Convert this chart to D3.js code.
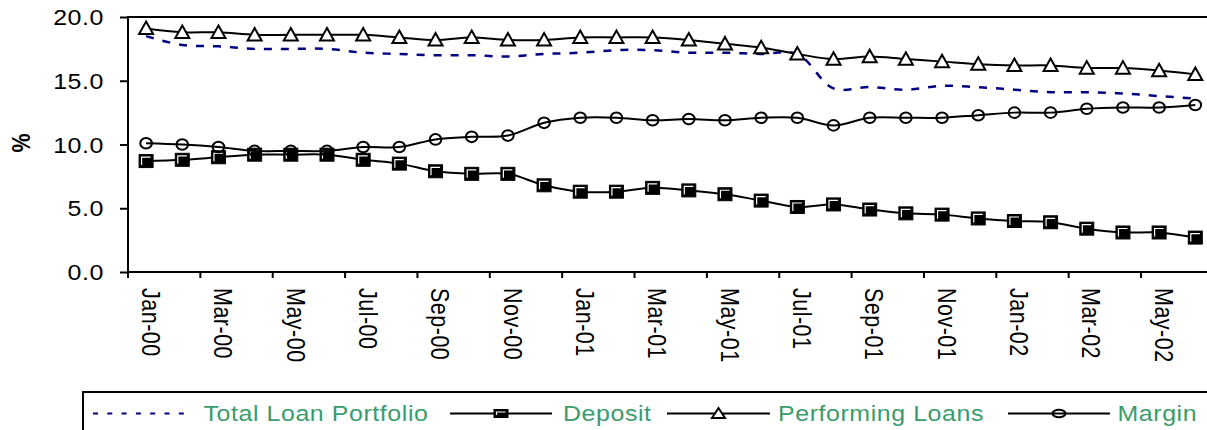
<!DOCTYPE html>
<html>
<head>
<meta charset="utf-8">
<script src="https://cdn.jsdelivr.net/npm/d3@7"></script>
<style>
    body { margin: 0; background: #fff; }
    svg { display: block; }
</style>
</head>
<body>
<div id="chart"></div>
<script>
const months = ['Jan-00', 'Feb-00', 'Mar-00', 'Apr-00', 'May-00', 'Jun-00', 'Jul-00', 'Aug-00', 'Sep-00', 'Oct-00', 'Nov-00', 'Dec-00',
    'Jan-01', 'Feb-01', 'Mar-01', 'Apr-01', 'May-01', 'Jun-01', 'Jul-01', 'Aug-01', 'Sep-01', 'Oct-01', 'Nov-01', 'Dec-01',
    'Jan-02', 'Feb-02', 'Mar-02', 'Apr-02', 'May-02', 'Jun-02'];
const tickLabels = ['Jan-00', 'Mar-00', 'May-00', 'Jul-00', 'Sep-00', 'Nov-00', 'Jan-01', 'Mar-01', 'May-01', 'Jul-01',
    'Sep-01', 'Nov-01', 'Jan-02', 'Mar-02', 'May-02'];
const yTicks = [0, 5, 10, 15, 20];

const totalLoanPortfolio = [18.5, 17.8, 17.7, 17.5, 17.5, 17.5, 17.2, 17.1, 17.0, 17.0, 16.9, 17.1, 17.2, 17.4, 17.4,
    17.2, 17.2, 17.1, 17.1, 14.4, 14.5, 14.3, 14.6, 14.5, 14.3, 14.1, 14.1, 14.0, 13.8, 13.6];
const deposit = [8.7, 8.8, 9.0, 9.2, 9.2, 9.2, 8.8, 8.5, 7.9, 7.7, 7.7, 6.8, 6.3, 6.3, 6.6,
    6.4, 6.1, 5.6, 5.1, 5.3, 4.9, 4.6, 4.5, 4.2, 4.0, 3.9, 3.4, 3.1, 3.1, 2.7];
const performingLoans = [19.1, 18.8, 18.8, 18.6, 18.6, 18.6, 18.6, 18.4, 18.2, 18.4, 18.2, 18.2, 18.4, 18.4, 18.4,
    18.2, 17.9, 17.6, 17.1, 16.7, 16.9, 16.7, 16.5, 16.3, 16.2, 16.2, 16.0, 16.0, 15.8, 15.5];
const margin = [10.1, 10.0, 9.8, 9.5, 9.5, 9.5, 9.8, 9.8, 10.4, 10.6, 10.7, 11.7, 12.1, 12.1, 11.9,
    12.0, 11.9, 12.1, 12.1, 11.5, 12.1, 12.1, 12.1, 12.3, 12.5, 12.5, 12.8, 12.9, 12.9, 13.1];

const series = [
    { name: 'Total Loan Portfolio', values: totalLoanPortfolio, marker: null },
    { name: 'Deposit', values: deposit, marker: 'square' },
    { name: 'Performing Loans', values: performingLoans, marker: 'triangle' },
    { name: 'Margin', values: margin, marker: 'circle' }
];

const width = 1207;
const height = 430;
const plot = { left: 128, top: 17, bottom: 272, step: 36.18 };
const fontFamily = "'Liberation Sans', Arial, sans-serif";
const fontSize = 21.5;
const stretch = 1.16;   // the text in the picture is wider than it is tall
const green = '#3a9c6c';
const navy = '#000080';

const svg = d3.select('#chart')
    .append('svg')
    .attr('width', width)
    .attr('height', height)
    .attr('font-family', fontFamily);

// Scales
const x = d3.scaleBand()
    .domain(months)
    .range([plot.left, plot.left + months.length * plot.step])
    .padding(0);

const y = d3.scaleLinear()
    .domain([0, 20])
    .range([plot.bottom, plot.top]);

const cx = (d, i) => x(months[i]) + x.bandwidth() / 2;

// Plot frame
svg.append('rect')
    .attr('x', plot.left)
    .attr('y', plot.top)
    .attr('width', x.range()[1] - plot.left)
    .attr('height', plot.bottom - plot.top)
    .attr('fill', 'none')
    .attr('stroke', '#000')
    .attr('stroke-width', 2);

// Y axis
const yAxis = svg.append('g')
    .attr('transform', `translate(${plot.left},0)`)
    .call(d3.axisLeft(y).tickValues(yTicks).tickFormat(d3.format('.1f')).tickSize(8));

yAxis.attr('font-family', fontFamily).attr('font-size', fontSize);
yAxis.select('.domain').remove();
yAxis.selectAll('.tick line')
    .attr('stroke', '#000')
    .attr('stroke-width', 2);
yAxis.selectAll('.tick text')
    .attr('x', 0)
    .attr('dy', null)
    .attr('fill', '#000')
    .attr('letter-spacing', 0.5)
    .attr('transform', `translate(-24,7.5) scale(${stretch},1)`);

// Y title
svg.append('text')
    .attr('transform', `translate(29.5,143) scale(${stretch},1) rotate(-90)`)
    .attr('text-anchor', 'middle')
    .attr('font-size', fontSize)
    .attr('font-weight', 'bold')
    .text('%');

// X axis: labels at the month, ticks between months
const xAxis = svg.append('g')
    .attr('transform', `translate(0,${plot.bottom})`)
    .call(d3.axisBottom(x).tickValues(tickLabels).tickSize(0));

xAxis.attr('font-family', fontFamily).attr('font-size', fontSize);
xAxis.select('.domain').remove();
xAxis.selectAll('.tick line')
    .attr('x1', -x.bandwidth() / 2)
    .attr('x2', -x.bandwidth() / 2)
    .attr('y2', 6)
    .attr('stroke', '#000')
    .attr('stroke-width', 2);
xAxis.selectAll('.tick text')
    .attr('y', 0)
    .attr('dy', null)
    .attr('fill', '#000')
    .attr('text-anchor', 'start')
    .attr('letter-spacing', 0.5)
    .attr('transform', `translate(-4.3,16) scale(${stretch},1) rotate(90)`);

// Markers
const drawMarker = (g, type, w, h) => {
    if (type === 'square') {
        g.append('rect')
            .attr('x', -w / 2).attr('y', -h / 2)
            .attr('width', w).attr('height', h)
            .attr('fill', '#000')
            .attr('stroke', '#000')
            .attr('stroke-width', 1);
        g.append('path')
            .attr('d', `M${-w / 2 + 2.5},${h / 2 - 2.5}V${-h / 2 + 2.5}H${w / 2 - 2.5}`)
            .attr('fill', 'none')
            .attr('stroke', '#fff')
            .attr('stroke-width', 1.2);
    }
    else if (type === 'triangle') {
        g.append('path')
            .attr('d', `M0,${-h * 0.55}L${w / 2},${h * 0.45}L${-w / 2},${h * 0.45}Z`)
            .attr('fill', '#fff')
            .attr('stroke', '#000')
            .attr('stroke-width', 2)
            .attr('stroke-linejoin', 'miter');
    }
    else if (type === 'circle') {
        g.append('ellipse')
            .attr('rx', w / 2).attr('ry', h / 2)
            .attr('fill', 'none')
            .attr('stroke', '#000')
            .attr('stroke-width', 2);
    }
};

const plotMarkerSize = {
    square: [14, 13],
    triangle: [14, 12.5],
    circle: [11.6, 10.6]
};

// Lines
const line = d3.line()
    .x(cx)
    .y(d => y(d))
    .curve(d3.curveCatmullRom.alpha(0.5));

series.forEach(s => {
    const g = svg.append('g').attr('class', 'series');

    g.append('path')
        .datum(s.values)
        .attr('d', line)
        .attr('fill', 'none')
        .attr('stroke', s.marker ? '#000' : navy)
        .attr('stroke-width', s.marker ? 2 : 2.5)
        .attr('stroke-dasharray', s.marker ? null : '8,9');

    if (s.marker) {
        g.selectAll('g.marker')
            .data(s.values)
            .join('g')
            .attr('class', 'marker')
            .attr('transform', (d, i) => `translate(${cx(d, i)},${y(d)})`)
            .each(function () {
                drawMarker(d3.select(this), s.marker, ...plotMarkerSize[s.marker]);
            });
    }
});

// Legend
const legendY = 413.5;
const legendLayout = [
    { x0: 93, x1: 190, text: 203.5 },
    { x0: 450, x1: 552, text: 563 },
    { x0: 667, x1: 770, text: 778 },
    { x0: 1008, x1: 1110, text: 1117.5 }
];
const legendMarkerSize = {
    square: [14, 8],
    triangle: [13, 10],
    circle: [13, 7.4]
};

const legend = svg.append('g').attr('class', 'legend');

legend.append('rect')
    .attr('x', 83)
    .attr('y', 392)
    .attr('width', 1200)
    .attr('height', 80)
    .attr('fill', 'none')
    .attr('stroke', '#000')
    .attr('stroke-width', 2);

series.forEach((s, i) => {
    const pos = legendLayout[i];

    legend.append('line')
        .attr('x1', pos.x0)
        .attr('x2', pos.x1)
        .attr('y1', legendY)
        .attr('y2', legendY)
        .attr('stroke', s.marker ? '#000' : navy)
        .attr('stroke-width', 2)
        .attr('stroke-dasharray', s.marker ? null : '5,9.3');

    if (s.marker) {
        const g = legend.append('g')
            .attr('transform', `translate(${(pos.x0 + pos.x1) / 2},${legendY})`);
        drawMarker(g, s.marker, ...legendMarkerSize[s.marker]);
    }

    legend.append('text')
        .attr('transform', `translate(${pos.text},420.7) scale(${stretch},1)`)
        .attr('font-size', fontSize)
        .attr('letter-spacing', 0.5)
        .attr('fill', green)
        .text(s.name);
});
</script>
</body>
</html>
